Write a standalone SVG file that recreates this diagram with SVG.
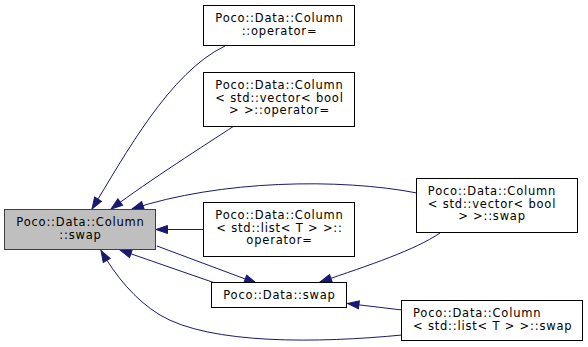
<svg xmlns="http://www.w3.org/2000/svg" width="588" height="347" viewBox="0 0 588 347">
  <style>
    .box { fill: #ffffff; stroke: #000000; stroke-width: 1; }
    .main { fill: #bfbfbf; stroke: #404040; stroke-width: 1; }
    .lbl { font-family: "DejaVu Sans", "Liberation Sans", sans-serif; font-size: 11.5px; letter-spacing: 0.8px; fill: #000000; text-anchor: middle; }
    .left { text-anchor: start; }
    .edge { fill: none; stroke: #191970; stroke-width: 1; marker-end: url(#arrow); }
  </style>
  <defs>
    <marker id="arrow" viewBox="0 0 13 10" refX="12.5" refY="5" markerWidth="13" markerHeight="10" markerUnits="userSpaceOnUse" orient="auto" overflow="visible">
      <path d="M1,1 L12.5,5 L1,9 Z" fill="#191970" stroke="#191970" stroke-width="1"/>
    </marker>
  </defs>
  <rect width="588" height="347" fill="#ffffff"/>

  <g id="connectors">
    <!-- callers of Column::swap -->
    <path class="edge" d="M225,46 C170,72 125,155 92,209"/>
    <path class="edge" d="M234,126 C205,145 150,180 111,209"/>
    <path class="edge" d="M417,193 C340,178 220,180 132,209"/>
    <path class="edge" d="M204,229.5 L156,229.5"/>
    <path class="edge" d="M157,246 L256,283"/>
    <path class="edge" d="M215,283 L120,250"/>
    <path class="edge" d="M440,233 C415,250 370,265 320,282"/>
    <path class="edge" d="M402,310 L347.5,303.5"/>
    <path class="edge" d="M402,335 C320,343 210,345 160,315 C135,300 115,275 101,250.5"/>
  </g>

  <g id="node-column-swap">
    <rect class="main" x="4.5" y="209.5" width="151" height="40"/>
    <text class="lbl" x="80.5" y="226.25">Poco::Data::Column</text>
    <text class="lbl" x="80.5" y="238.75">::swap</text>
  </g>

  <g id="node-column-operator-assign">
    <rect class="box" x="203.5" y="5.5" width="151" height="40"/>
    <text class="lbl" x="279.5" y="22.25">Poco::Data::Column</text>
    <text class="lbl" x="279.5" y="34.75">::operator=</text>
  </g>

  <g id="node-vector-bool-operator-assign">
    <rect class="box" x="203.5" y="72.5" width="151" height="54"/>
    <text class="lbl" x="279.5" y="89">Poco::Data::Column</text>
    <text class="lbl" x="279.5" y="101.5">&lt; std::vector&lt; bool</text>
    <text class="lbl" x="279.5" y="114">&gt; &gt;::operator=</text>
  </g>

  <g id="node-list-operator-assign">
    <rect class="box" x="203.5" y="202.5" width="151" height="54"/>
    <text class="lbl" x="279.5" y="219">Poco::Data::Column</text>
    <text class="lbl" x="279.5" y="231.5">&lt; std::list&lt; T &gt; &gt;::</text>
    <text class="lbl" x="279.5" y="244">operator=</text>
  </g>

  <g id="node-data-swap">
    <rect class="box" x="211.5" y="282.5" width="135" height="25"/>
    <text class="lbl" x="279.5" y="299">Poco::Data::swap</text>
  </g>

  <g id="node-vector-bool-swap">
    <rect class="box" x="416.5" y="178.5" width="161" height="54"/>
    <text class="lbl" x="492" y="195">Poco::Data::Column</text>
    <text class="lbl" x="492" y="207.5">&lt; std::vector&lt; bool</text>
    <text class="lbl" x="492" y="220">&gt; &gt;::swap</text>
  </g>

  <g id="node-list-swap">
    <rect class="box" x="401.5" y="300.5" width="181" height="40"/>
    <text class="lbl left" x="413" y="317.25">Poco::Data::Column</text>
    <text class="lbl left" x="413" y="329.75">&lt; std::list&lt; T &gt; &gt;::swap</text>
  </g>
</svg>
